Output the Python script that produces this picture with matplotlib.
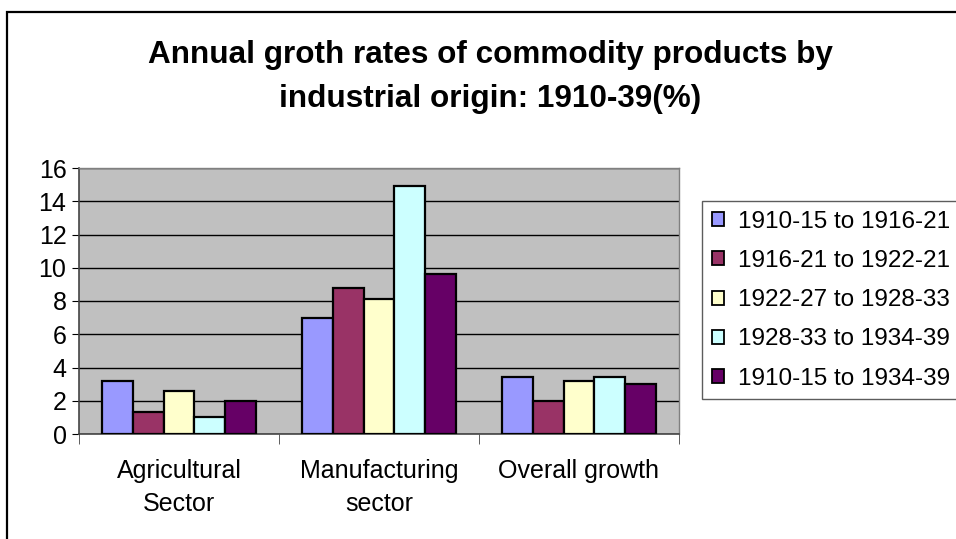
import matplotlib.pyplot as plt
import matplotlib.patches as mpatches
import numpy as np

plt.rcParams['font.family'] = ['Liberation Sans', 'DejaVu Sans']

# données
categories = ["Agricultural\nSector", "Manufacturing\nsector", "Overall growth"]
periodes = ["1910-15 to 1916-21", "1916-21 to 1922-21", "1922-27 to 1928-33",
            "1928-33 to 1934-39", "1910-15 to 1934-39"]
valeurs = [[3.2, 7.0, 3.4],
           [1.3, 8.8, 2.0],
           [2.6, 8.1, 3.2],
           [1.0, 14.9, 3.4],
           [2.0, 9.6, 3.0]]
couleurs = ["#9999FF", "#993366", "#FFFFCC", "#CCFFFF", "#660066"]
graduations_y = [0, 2, 4, 6, 8, 10, 12, 14, 16]

W, H = 956, 539
fig = plt.figure(figsize=(W / 100, H / 100), dpi=100)

# cadre du graphique (bords haut et gauche visibles)
fig.patches.append(mpatches.Rectangle((7 / W, -0.1), 1.1, 1 - 12 / H + 0.1,
                                      transform=fig.transFigure, fill=False,
                                      edgecolor='black', linewidth=1.6))

ax = fig.add_axes([79 / W, 1 - 434 / H, 600 / W, 266 / H])
ax.set_facecolor('#C0C0C0')

x = np.arange(len(categories))
largeur = 0.154
for i, (nom, vals, c) in enumerate(zip(periodes, valeurs, couleurs)):
    ax.bar(x + (i - 2) * largeur, vals, largeur, color=c, edgecolor='black',
           linewidth=1.6, label=nom, zorder=3)

ax.set_xlim(-0.5, len(categories) - 0.5)
ax.set_ylim(0, 16)
ax.set_yticks(graduations_y)
ax.yaxis.grid(True, color='black', linewidth=1.0, zorder=1)
ax.set_axisbelow(True)
ax.tick_params(axis='y', labelsize=18, length=5, direction='out', pad=4)

ax.set_xticks(x)
ax.set_xticklabels(categories, fontsize=18, linespacing=1.45)
ax.tick_params(axis='x', length=0, pad=18)
ax.set_xticks(np.arange(len(categories) + 1) - 0.5, minor=True)
ax.tick_params(axis='x', which='minor', length=7, direction='out', color='#444444')

for s in ['top', 'right']:
    ax.spines[s].set_color('#808080')
    ax.spines[s].set_linewidth(1.0)
for s in ['left', 'bottom']:
    ax.spines[s].set_color('#444444')
    ax.spines[s].set_linewidth(1.2)

fig.text(490 / W, 1 - 77 / H, "Annual groth rates of commodity products by\nindustrial origin: 1910-39(%)",
         ha='center', va='center', fontsize=22.7, fontweight='bold', linespacing=1.6)

leg = fig.legend(loc='upper left', bbox_to_anchor=(702 / W, 1 - 201 / H), fontsize=17.5,
                 handlelength=0.5, handleheight=0.5, handletextpad=0.6,
                 labelspacing=0.71, borderpad=0.4, borderaxespad=0,
                 fancybox=False, frameon=True)
leg.get_frame().set_edgecolor('#333333')
leg.get_frame().set_linewidth(1.0)
for h in leg.legend_handles:
    h.set_linewidth(1.3)

fig.savefig("out.png", dpi=100)
